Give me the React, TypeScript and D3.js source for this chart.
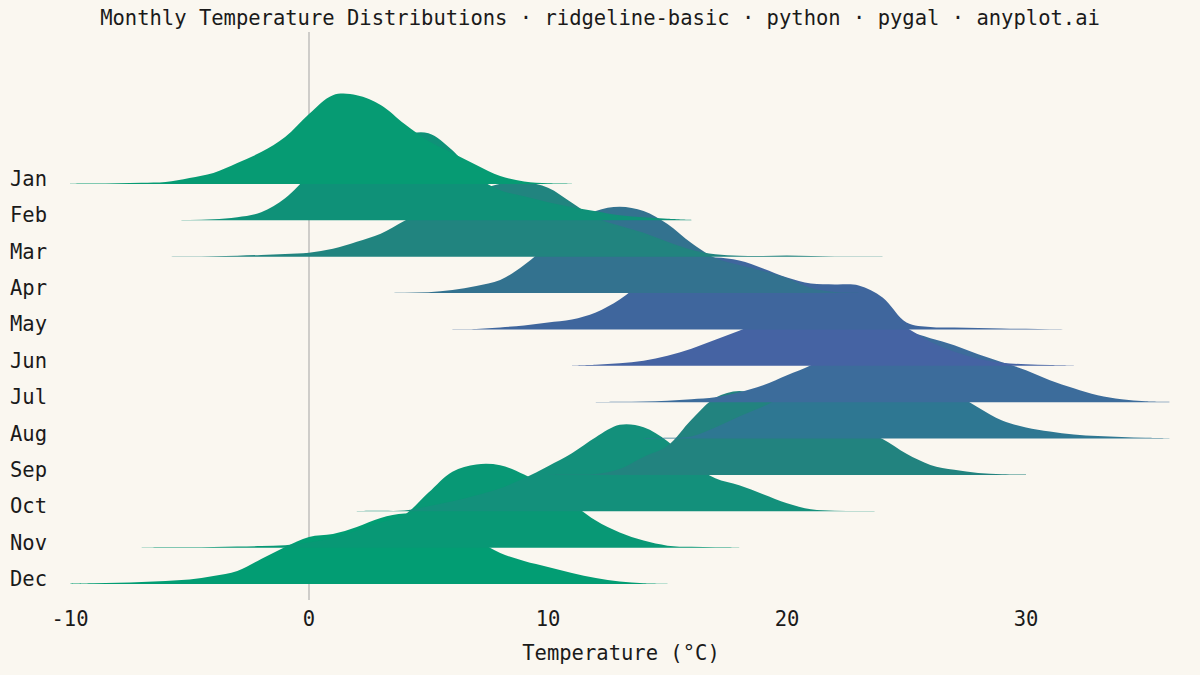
import { useEffect } from 'react';
import * as d3 from 'd3';

// months, top to bottom
const months = ['Jan', 'Feb', 'Mar', 'Apr', 'May', 'Jun', 'Jul', 'Aug', 'Sep', 'Oct', 'Nov', 'Dec'];

// first temperature (°C) of each month's density curve, sampled every 1 °C
const startTemp = [-10, -6, -6, 3, 6, 11, 12, 14, 10, 2, -7, -10];

// kernel density estimates (% per °C)
const jan = [0.04, 0.06, 0.1, 0.15, 0.25, 0.75, 1.38, 2.63, 4, 5.88, 8.75, 11.1, 11.1, 9.88, 7.5, 5.38, 3.88, 2.38, 1, 0.31, 0.08, 0.03];
const feb = [0.01, 0.04, 0.13, 0.38, 1, 2.75, 5.5, 7.25, 8.5, 9.75, 10.75, 10.9, 8.75, 5.5, 3.75, 3, 2.25, 1.63, 1.13, 0.63, 0.38, 0.19, 0.05];
const mar = [0.01, 0.03, 0.06, 0.13, 0.23, 0.35, 0.5, 1, 1.88, 2.88, 4.5, 6.13, 7.5, 8.25, 9.13, 9.3, 8.63, 6.75, 4.88, 3.88, 3, 1.88, 0.88, 0.31, 0.13, 0.1, 0.15, 0.09, 0.04, 0.02, 0.01];
const apr = [0.01, 0.04, 0.1, 0.38, 0.88, 1.63, 3.5, 6, 8.5, 10.25, 10.8, 10.25, 8.63, 6.25, 4.38, 3.5, 2.75, 1.88, 0.63, 0.13, 0.04];
const may = [0.03, 0.06, 0.25, 0.5, 0.88, 1.25, 2.13, 3.75, 6, 7.88, 8.88, 9, 8.63, 7.63, 6.5, 5.75, 5.63, 5.5, 4, 0.88, 0.31, 0.25, 0.19, 0.13, 0.08, 0.04, 0.01];
const jun = [0.03, 0.13, 0.31, 0.63, 1.25, 2.13, 3.25, 4.38, 5.63, 6.88, 7.75, 8.25, 7.5, 6.25, 4.75, 3, 1.75, 0.88, 0.38, 0.19, 0.1, 0.03];
const jul = [0.01, 0.04, 0.1, 0.19, 0.38, 0.63, 1.25, 2.13, 3.38, 4.63, 6.25, 7.88, 8.75, 8.8, 8, 7.13, 6, 5, 4, 2.75, 1.75, 0.88, 0.38, 0.13, 0.04];
const aug = [0.04, 0.09, 0.25, 1.38, 2.75, 4, 5.5, 7, 8.5, 9.75, 10, 9.25, 7.75, 5.75, 3.88, 2.25, 1.38, 0.88, 0.5, 0.31, 0.19, 0.1, 0.04];
const sep = [0.03, 0.05, 0.11, 0.75, 2.25, 3.63, 6.88, 9.63, 10.5, 9.75, 8.5, 7.5, 6.5, 5.63, 4.5, 2.63, 1.25, 0.63, 0.25, 0.09, 0.04];
const oct = [0.03, 0.05, 0.1, 0.63, 1.25, 2, 2.88, 4.13, 5.63, 7.25, 9.25, 10.8, 10.5, 8.75, 6, 4.13, 3.25, 2.13, 1, 0.25, 0.08, 0.03, 0.01];
const nov = [0.01, 0.04, 0.06, 0.09, 0.13, 0.19, 0.31, 0.63, 1.25, 2.13, 3.13, 4.13, 6.88, 9.5, 10.4, 10.3, 9.13, 7.5, 5.5, 3.38, 1.88, 0.88, 0.25, 0.1, 0.05, 0.03];
const dec = [0.03, 0.08, 0.15, 0.25, 0.38, 0.56, 1, 1.63, 3.13, 4.63, 5.88, 6.25, 7.13, 8.25, 8.8, 8.5, 7.25, 5.5, 3.88, 2.88, 2.13, 1.38, 0.75, 0.31, 0.1, 0.03];

const densities = [jan, feb, mar, apr, may, jun, jul, aug, sep, oct, nov, dec];

const xTicks = [-10, 0, 10, 20, 30];

const colors = [
  '#069B73', '#0F9178', '#21847F', '#33728F', '#3F669D', '#4563A3',
  '#3C6C9B', '#2E7792', '#22837F', '#13907B', '#089875', '#029D73',
];

const W = 1200;
const H = 675;
const FONT = '"DejaVu Sans Mono", monospace';

export default function App() {
  useEffect(() => {
    document.body.style.margin = '0';
    document.body.style.background = '#FAF7F0';
  }, []);

  const xScale = d3.scaleLinear().domain([-10, 36]).range([70, 70 + 46 * 23.9]);
  const yScale = d3.scalePoint<string>().domain(months).range([184, 584]);
  const hScale = d3.scaleLinear().domain([0, 12]).range([0, 96]);

  const ridges = months.map((m, i) => {
    const base = yScale(m) as number;
    const pts = densities[i].map((d, j) => [startTemp[i] + j, d] as [number, number]);
    const area = d3.area<[number, number]>()
      .x(p => xScale(p[0]))
      .y0(base)
      .y1(p => Math.min(base, base - hScale(p[1])))
      .curve(d3.curveCatmullRom.alpha(0.5));
    return { m, i, base, d: area(pts) || '' };
  });

  // later months drawn first, so January ends up on top
  const drawOrder = [...ridges].reverse();

  return (
    <svg width={W} height={H} style={{ display: 'block', background: '#FAF7F0' }}>
      <rect x={0} y={0} width={W} height={H} fill="#FAF7F0" />
      <text x={600} y={25} textAnchor="middle" fontFamily={FONT} fontSize={20.5} fill="#1a1a1a">
        Monthly Temperature Distributions · ridgeline-basic · python · pygal · anyplot.ai
      </text>

      <line x1={xScale(0)} x2={xScale(0)} y1={32} y2={600} stroke="#a3a3a3" strokeWidth={1} />

      {drawOrder.map(r => (
        <path key={r.m} d={r.d} fill={colors[r.i]} stroke="none" />
      ))}

      {ridges.map(r => (
        <text key={'l' + r.m} x={10} y={r.base + 2} fontFamily={FONT} fontSize={20.5} fill="#1a1a1a">
          {r.m}
        </text>
      ))}

      {xTicks.map(t => (
        <text key={'t' + t} x={xScale(t)} y={626} textAnchor="middle" fontFamily={FONT} fontSize={20.5} fill="#1a1a1a">
          {t}
        </text>
      ))}

      <text x={621} y={660} textAnchor="middle" fontFamily={FONT} fontSize={20.5} fill="#1a1a1a">
        Temperature (°C)
      </text>
    </svg>
  );
}
